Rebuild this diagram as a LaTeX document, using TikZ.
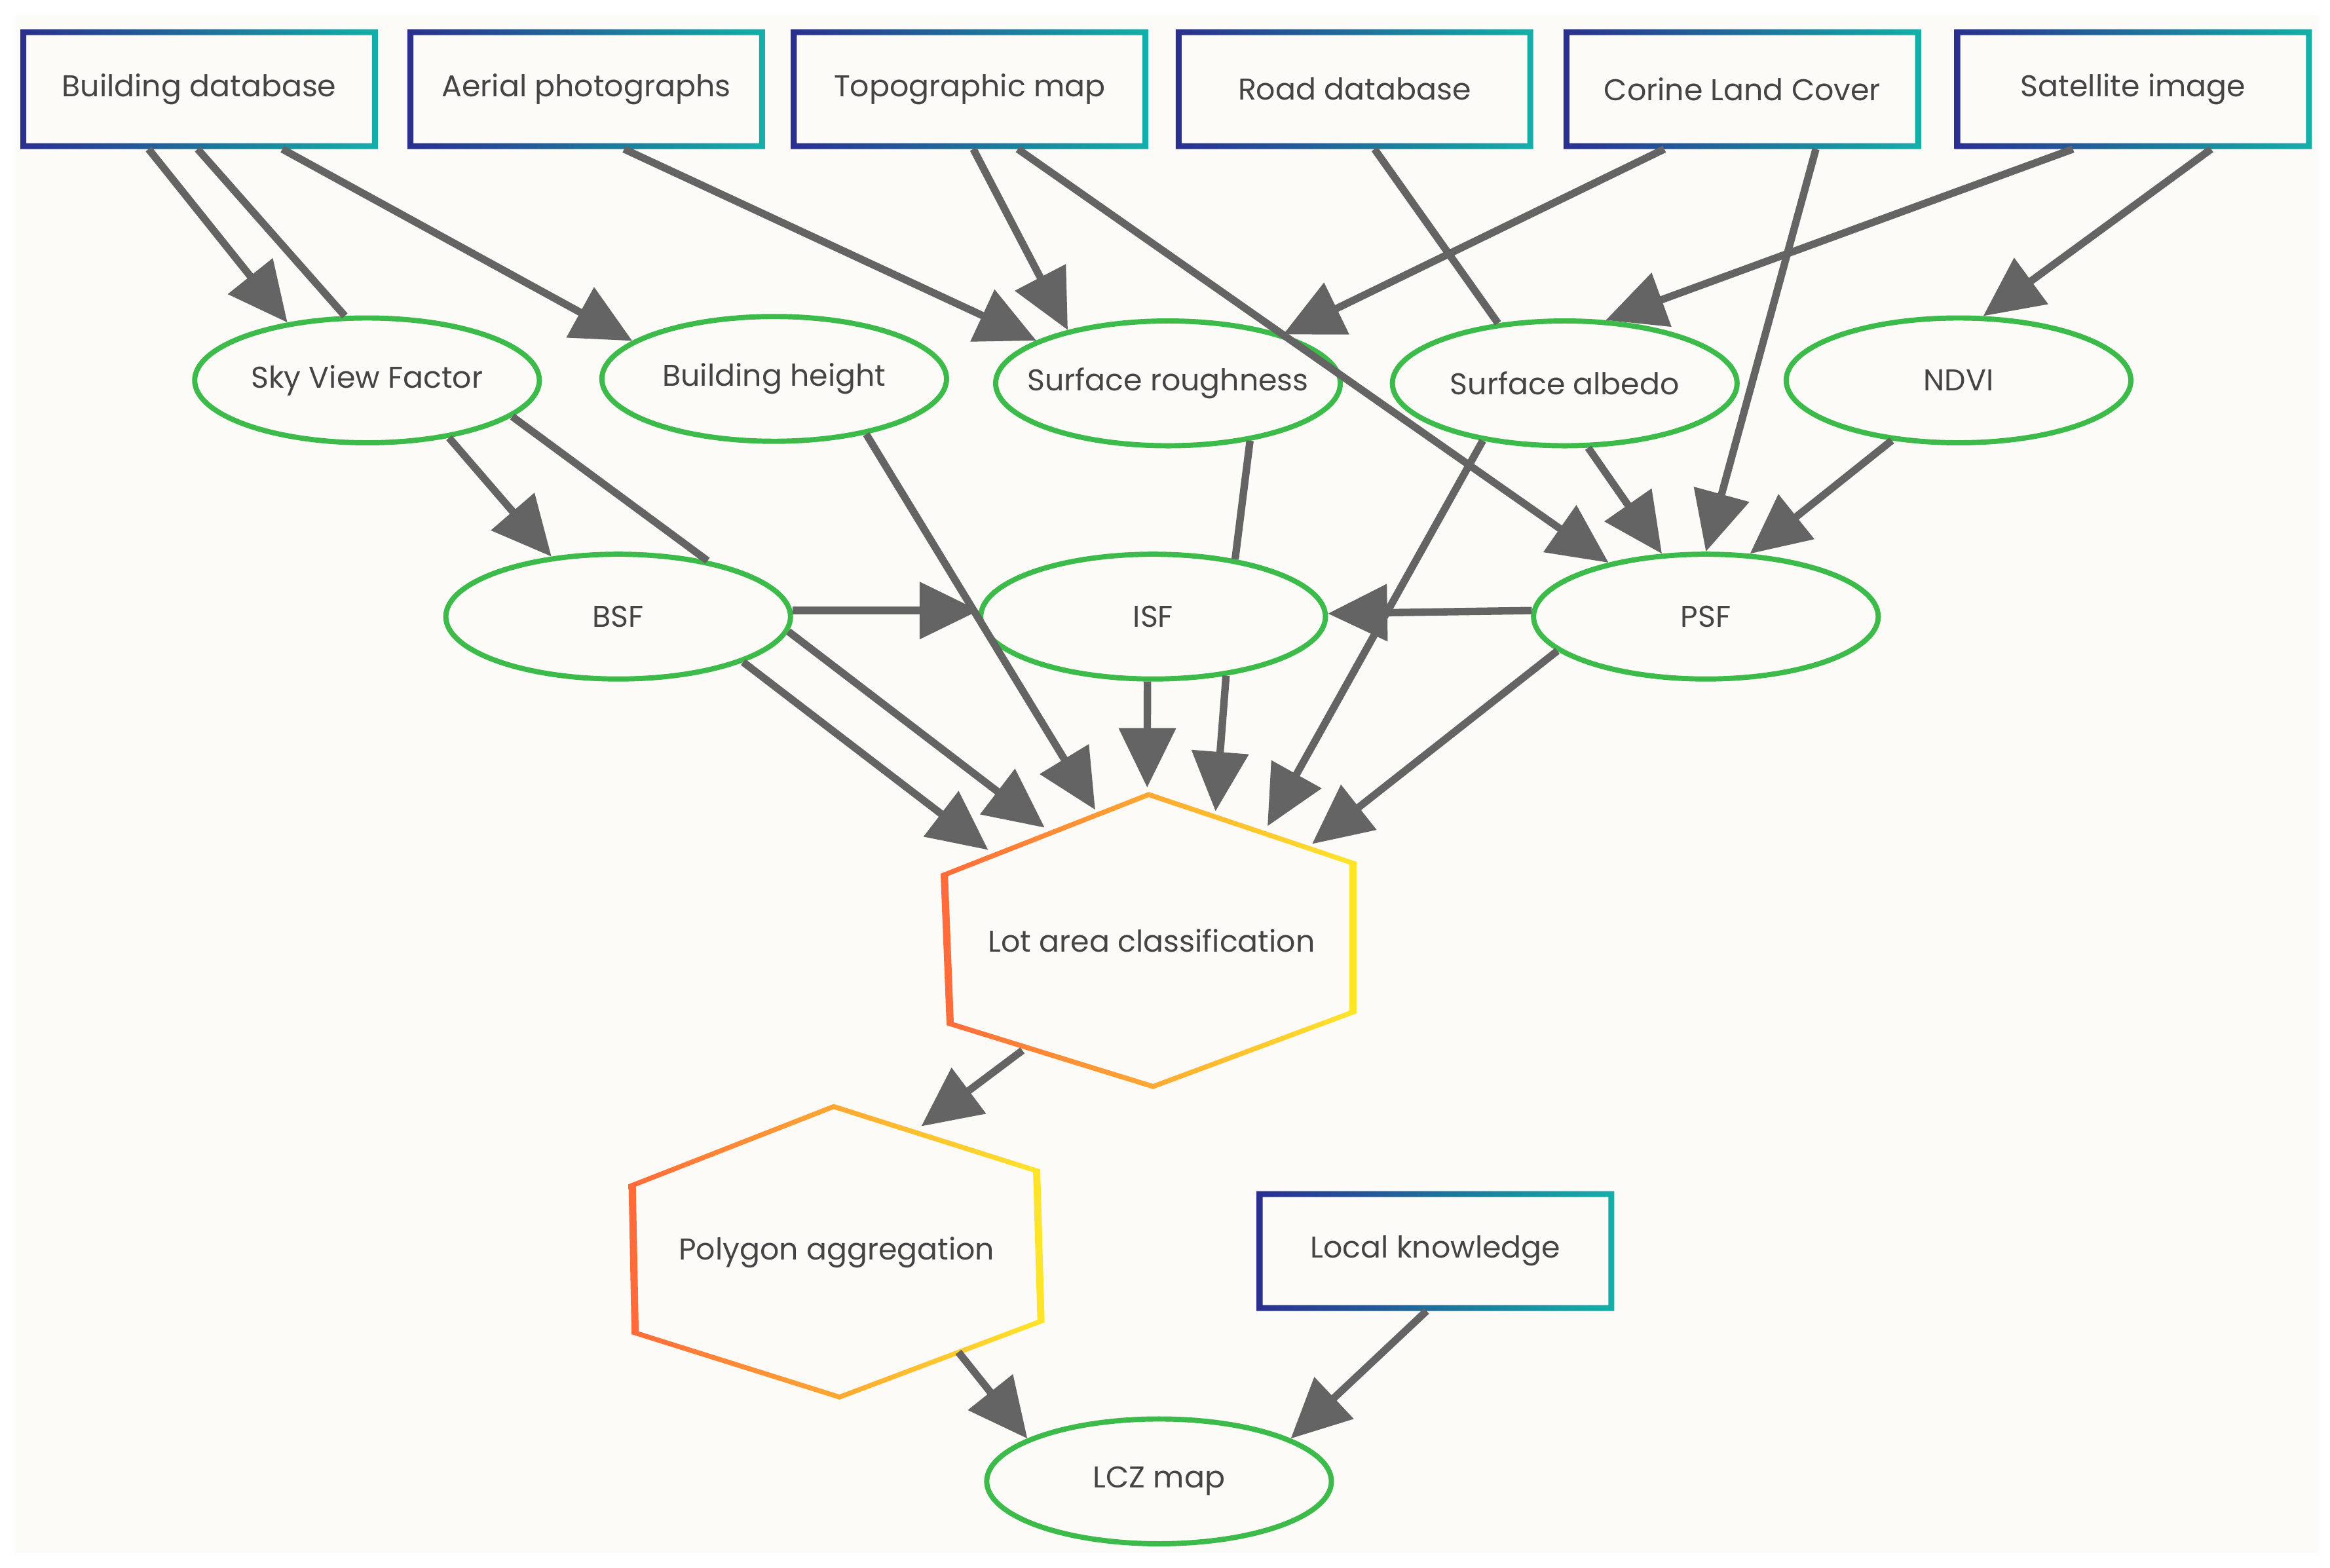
\documentclass[tikz,border=0pt]{standalone}
\usepackage{fontspec}
\setmainfont{Poppins}
\usetikzlibrary{shapes.geometric,arrows.meta,calc}
\definecolor{navy}{HTML}{2B2F8F}
\definecolor{teal2}{HTML}{14B0A8}
\definecolor{grn}{HTML}{3DBB4A}
\definecolor{arr}{HTML}{646464}
\definecolor{txt}{HTML}{444444}
\definecolor{bg}{HTML}{FDFBF8}
\definecolor{org}{HTML}{FF6A3A}
\definecolor{yel}{HTML}{FFE62A}
\tikzset{
 box/.style={rectangle,minimum width=4.8cm,minimum height=1.6cm,inner sep=0,text=txt,font=\fontsize{11.5}{13}\selectfont},
 ell/.style={ellipse,draw=grn,line width=0.07cm,minimum width=4.64cm,minimum height=1.68cm,inner sep=0,inner xsep=-0.6cm,text=txt,font=\fontsize{11.5}{13}\selectfont},
 lbl/.style={inner sep=0,text=txt,font=\fontsize{11.5}{13}\selectfont},
 a/.style={draw=arr,line width=0.1cm,-{Triangle[length=0.8cm,width=0.75cm]}},
 l/.style={draw=arr,line width=0.1cm},
}
\newcommand{\gbox}[1]{\shade[left color=navy,right color=teal2,even odd rule] (#1.north west) rectangle (#1.south east) ([shift={(0.08cm,-0.08cm)}]#1.north west) rectangle ([shift={(-0.08cm,0.08cm)}]#1.south east);}
\begin{document}
\begin{tikzpicture}[x=0.02cm,y=-0.02cm]
\fill[white] (0,0) rectangle (1568,1055.3);
\fill[bg] (10,10) rectangle (1560,1045);
\useasboundingbox (0,0) rectangle (1568,1055.3);
% boxes
\node[box] (bd) at (134,60) {Building database};
\node[box] (ap) at (394.5,60) {Aerial photographs};
\node[box] (tm) at (652.5,60) {Topographic map};
\node[box] (rd) at (911.5,60) {Road database};
\node[box] (clc) at (1172.5,60) {Corine Land Cover};
\node[box] (si) at (1435.5,60) {Satellite image};
\node[box] (lk) at (966,842) {Local knowledge};
\foreach \n in {bd,ap,tm,rd,clc,si,lk} {\gbox{\n}}
% ellipses
\node[ell] (svf) at (247,256) {Sky View Factor};
\node[ell] (bh) at (521,255) {Building height};
\node[ell] (sr) at (786,258) {Surface roughness};
\node[ell] (sa) at (1053,258) {Surface albedo};
\node[ell] (ndvi) at (1318,256) {NDVI};
\node[ell] (bsf) at (416,415) {BSF};
\node[ell] (isf) at (776,415) {ISF};
\node[ell] (psf) at (1148,415) {PSF};
\node[ell] (lcz) at (780,997) {LCZ map};
% hexagons
\coordinate (lc) at (775,633);
\coordinate (l1) at (773,533); \coordinate (l2) at (913,580); \coordinate (l3) at (913,682);
\coordinate (l4) at (776,733); \coordinate (l5) at (637,690); \coordinate (l6) at (633,588);
\shade[left color=org,right color=yel,even odd rule] (l1)--(l2)--(l3)--(l4)--(l5)--(l6)--cycle
 ($(lc)!0.965!(l1)$)--($(lc)!0.965!(l2)$)--($(lc)!0.965!(l3)$)--($(lc)!0.965!(l4)$)--($(lc)!0.965!(l5)$)--($(lc)!0.965!(l6)$)--cycle;
\node[lbl] (lot) at (lc) {Lot area classification};
\coordinate (pc) at (563,843);
\coordinate (p1) at (561,743); \coordinate (p2) at (700,787); \coordinate (p3) at (703,890);
\coordinate (p4) at (565,942); \coordinate (p5) at (425,898); \coordinate (p6) at (423,797);
\shade[left color=org,right color=yel,even odd rule] (p1)--(p2)--(p3)--(p4)--(p5)--(p6)--cycle
 ($(pc)!0.965!(p1)$)--($(pc)!0.965!(p2)$)--($(pc)!0.965!(p3)$)--($(pc)!0.965!(p4)$)--($(pc)!0.965!(p5)$)--($(pc)!0.965!(p6)$)--cycle;
\node[lbl] (poly) at (pc) {Polygon aggregation};
% connectors
\draw[a] ([xshift=-0.68cm]bd.south) -- (svf.144);
\draw[l] ([xshift=-0.02cm]bd.south) -- (svf.109);
\draw[a] ([xshift=1.12cm]bd.south) -- (bh.165);
\draw[a] ([xshift=0.51cm]ap.south) -- (sr.162);
\draw[a] ([xshift=0.05cm]tm.south) -- (sr.152);
\draw[a] ([xshift=0.65cm]tm.south) -- (psf.151);
\draw[a] ([xshift=-1.05cm]clc.south) -- (sr.23);
\draw[l] ([xshift=0.27cm]rd.south) -- (sa.138);
\draw[a] ([xshift=0.99cm]clc.south) -- (psf.90);
\draw[a] ([xshift=-0.81cm]si.south) -- (sa.57);
\draw[a] ([xshift=1.05cm]si.south) -- (ndvi.69);
\draw[a] (svf.-35) -- (bsf.138);
\draw[l] (svf.-14) -- (bsf.32);
\draw[a] (bh.-31) -- ([shift={(-0.76cm,1.76cm)}]lot.center);
\draw[l] (sr.-35) -- (isf.35);
\draw[a] (sa.-70) -- (psf.125);
\draw[a] (sa.-145) -- ([shift={(1.56cm,1.54cm)}]lot.center);
\draw[a] (ndvi.-138) -- (psf.55);
\draw[a] (bsf.2) -- (isf.178);
\draw[a] (psf.178) -- (isf.1.5);
\draw[a] (bsf.-20) -- ([shift={(-2.2cm,1.22cm)}]lot.center);
\draw[a] (bsf.-5) -- ([shift={(-1.44cm,1.52cm)}]lot.center);
\draw[a] (isf.-95) -- ([shift={(-0.06cm,2.06cm)}]lot.center);
\draw[a] (isf.-39) -- ([shift={(0.86cm,1.74cm)}]lot.center);
\draw[a] (psf.-167) -- ([shift={(2.16cm,1.3cm)}]lot.center);
\draw[a] ([shift={(-1.74cm,-1.48cm)}]lot.center) -- ([shift={(1.14cm,1.7cm)}]poly.center);
\draw[a] ([shift={(1.64cm,-1.34cm)}]poly.center) -- (lcz.162);
\draw[a] ([xshift=-0.12cm]lk.south) -- (lcz.18);
\end{tikzpicture}
\end{document}
